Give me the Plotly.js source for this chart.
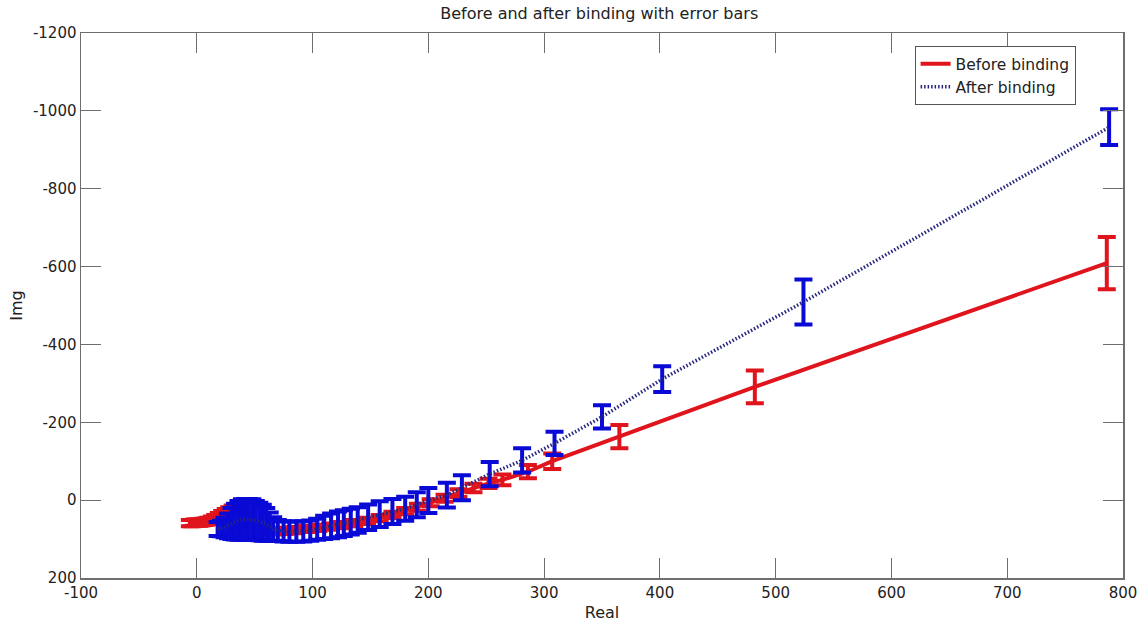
<!DOCTYPE html>
<html>
<head>
<meta charset="utf-8">
<script src="https://cdn.plot.ly/plotly-3.0.1.min.js"></script>
<style>html,body{margin:0;padding:0;background:#fff;}#chart{width:1148px;height:623px;}</style>
</head>
<body>
<div id="chart"></div>
<script>
// Before binding (red)
var redReal = [-6,-4,-2,0,2,4,6,8,10,13,16,19,22,25,28,31,34,37,40,43,46,50,55,60,68,76,85,95,105,115,125,136,147,158,169,180,191,202,214,226,239,252,264,286,307,365,482,786];
var redImg  = [59,59,58,58,58,57,56,55,53,50,46,41,36,31,26,22,22,30,42,54,64,72,77,79,80,79,77,74,71,68,64,59,53,46,38,28,18,7,-5,-18,-31,-43,-52,-73,-100,-163,-291,-609];
var redErr  = [8,8,8,8,8,8,8,8,8,8,8,8,8,8,8,8,8,8,8,8,8,8,8,8,8,8,8,8,8,8,8,8,8,8,8,8,9,9,9,10,11,12,14,17,20,30,42,67];

// After binding (blue)
var blueReal = [18,21,24,27,30,33,36,39,42,45,48,51,54,57,60,63,66,70,75,80,86,92,98,104,110,116,122,127,133,139,148,158,169,180,190,200,216,229,253,281,309,350,402,524,788];
var blueImg  = [74,73,70,66,60,55,52,50,49,49,50,52,55,58,62,68,74,78,80,81,81,80,78,75,70,66,62,59,55,51,44,36,29,22,12,1,-13,-32,-67,-102,-146,-214,-311,-509,-958];
var blueErr  = [18,20,25,32,40,46,50,52,52,52,52,50,48,46,42,36,30,27,26,26,26,26,26,27,30,32,33,33,33,33,33,33,32,31,32,32,32,32,31,31,30,30,33,58,46];

var xTicks = [-100,0,100,200,300,400,500,600,700,800];
var yTicks = [-1200,-1000,-800,-600,-400,-200,0,200];

var FONT = 'DejaVu Sans, Arial, sans-serif';
var AX = '#6e6e6e';

var traces = [
  {
    x: redReal, y: redImg, type: 'scatter', mode: 'lines', name: 'Before binding',
    line: {color: '#e0141c', width: 4},
    error_y: {type: 'data', array: redErr, visible: true, color: '#e0141c', thickness: 4, width: 9}
  },
  {
    x: blueReal, y: blueImg, type: 'scatter', mode: 'lines', name: 'After binding',
    line: {color: '#262680', width: 3.5, dash: '1.5px,2px'},
    error_y: {type: 'data', array: blueErr, visible: true, color: '#0a0ad6', thickness: 4, width: 9}
  }
];

var axisCommon = {
  ticks: 'inside', ticklen: 20, tickwidth: 1.2, tickcolor: AX,
  showline: true, linecolor: AX, linewidth: 1.5, mirror: 'ticks',
  showgrid: false, zeroline: false,
  tickfont: {family: FONT, size: 15, color: '#222'}
};

var layout = {
  width: 1148, height: 623,
  margin: {l: 81, r: 25, t: 33, b: 45},
  paper_bgcolor: '#fff', plot_bgcolor: '#fff',
  showlegend: true,
  title: {text: 'Before and after binding with error bars', font: {family: FONT, size: 16, color: '#222'},
          x: 0.522, xanchor: 'center', y: 0.978, yanchor: 'middle', yref: 'container'},
  xaxis: Object.assign({}, axisCommon, {
    range: [-100, 800], tickmode: 'array', tickvals: xTicks, ticktext: xTicks.map(String),
    title: {text: 'Real', font: {family: FONT, size: 16, color: '#222'}, standoff: 6}
  }),
  yaxis: Object.assign({}, axisCommon, {
    range: [200, -1200], tickmode: 'array', tickvals: yTicks, ticktext: yTicks.map(String),
    title: {text: 'Img', font: {family: FONT, size: 16, color: '#222'}, standoff: 6}
  }),
  legend: {x: 0.8, y: 0.976, xanchor: 'left', yanchor: 'top', bgcolor: '#fff',
           bordercolor: '#555', borderwidth: 1, font: {family: FONT, size: 15.5, color: '#222'}}
};

Plotly.newPlot('chart', traces, layout, {displayModeBar: false, staticPlot: true});
</script>
</body>
</html>
